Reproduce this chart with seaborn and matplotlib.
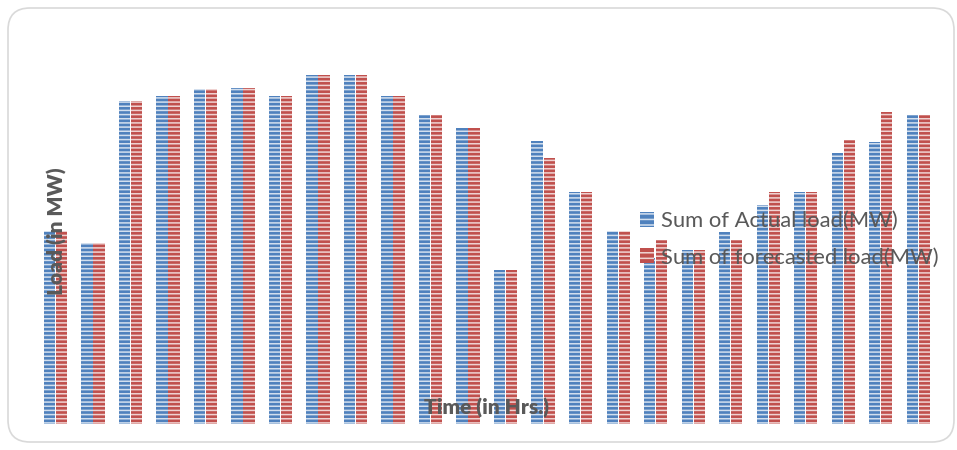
import matplotlib
matplotlib.use("Agg")
import matplotlib.pyplot as plt
import seaborn as sns
import pandas as pd
from matplotlib.patches import Patch, FancyBboxPatch

hours = [str(h) for h in range(1, 25)]
actual_load = [193, 181, 323, 328, 335, 336, 328, 349, 349, 328, 309, 296,
               154, 283, 232, 193, 166, 174, 192, 219, 232, 271, 282, 309]
forecast_load = [193, 181, 323, 328, 335, 336, 328, 349, 349, 328, 309, 296,
                 154, 266, 232, 193, 184, 174, 184, 232, 232, 284, 312, 309]
series_names = ["Sum of Actual load(MW)", "Sum of forecasted load(MW)"]
colors = ["#4F81BD", "#C0504D"]

df = pd.DataFrame({
    "Hour": hours * 2,
    "Load": actual_load + forecast_load,
    "Series": [series_names[0]] * 24 + [series_names[1]] * 24,
})

sns.set_theme(style="white")
plt.rcParams["font.family"] = ["Lato", "DejaVu Sans"]
plt.rcParams["hatch.linewidth"] = 1.1

W, H = 957, 450
fig = plt.figure(figsize=(W / 100, H / 100), dpi=100)
ax = fig.add_axes([36.75 / W, 26 / H, (937 - 36.75) / W, (424 - 64) / H])

sns.barplot(data=df, x="Hour", y="Load", hue="Series", hue_order=series_names,
            palette=colors, width=0.64, gap=0.06, ax=ax, legend=False,
            saturation=1)

stripe = (1, 1, 1, 0.75)
for p in ax.patches:
    p.set_hatch("----")
    p.set_edgecolor(stripe)
    p.set_linewidth(0)

ax.set_ylim(0, 360)
ax.set_xlim(-0.5, 23.5)
for s in ax.spines.values():
    s.set_visible(False)
ax.set_xticks([])
ax.set_yticks([])
ax.set_xlabel("")
ax.set_ylabel("")
ax.patch.set_alpha(0)

# axis titles
fig.text(487 / W, 1 - 408 / H, "Time (in Hrs.)", ha="center", va="center",
         fontsize=15, fontweight="heavy", color="#595959")
fig.text(57 / W, 1 - 231 / H, "Load (in MW)", ha="center", va="center",
         rotation=90, fontsize=15, fontweight="heavy", color="#595959")

handles = [Patch(facecolor=c, edgecolor=stripe, hatch="---", linewidth=0)
           for c in colors]
leg = ax.legend(handles, series_names, loc="upper left",
                bbox_to_anchor=(640 / W, 1 - 211 / H), bbox_transform=fig.transFigure,
                frameon=False, fontsize=15.8, handlelength=0.65, handleheight=0.7,
                handletextpad=0.3, labelspacing=0.75, borderpad=0, borderaxespad=0)
for t in leg.get_texts():
    t.set_color("#595959")

# rounded chart border
border = FancyBboxPatch((8, 8), 946, 434, boxstyle="round,pad=0,rounding_size=22",
                        transform=None, facecolor="none", edgecolor="#D9D9D9",
                        linewidth=1.2)
fig.patches.append(border)

fig.savefig("out.png", dpi=100)
